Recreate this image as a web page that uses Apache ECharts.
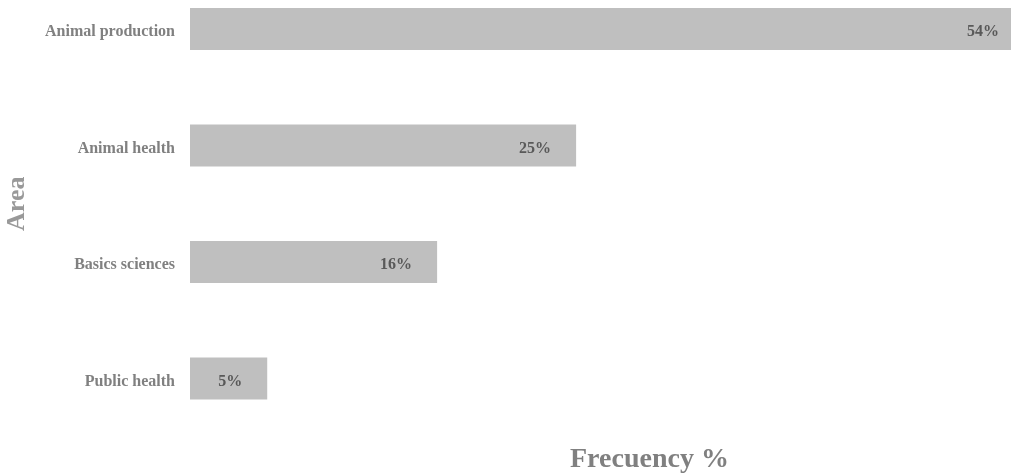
<!DOCTYPE html>
<html><head><meta charset="utf-8">
<script src="https://cdn.jsdelivr.net/npm/echarts@6/dist/echarts.min.js"></script>
<style>html,body{margin:0;padding:0;background:#fff}#c{width:1011px;height:474px}</style>
</head><body><div id="c"></div>
<script>
var categories = ['Animal production', 'Animal health', 'Basics sciences', 'Public health'];
var values = [54, 25, 16, 5];
var xTitle = 'Frecuency %';
var yTitle = 'Area';

var chart = echarts.init(document.getElementById('c'));
var font = '"Liberation Serif", "DejaVu Serif", serif';
chart.setOption({
  animation: false,
  graphic: [{
    type: 'text', x: 570, y: 460,
    style: {text: xTitle, verticalAlign: 'middle', align: 'left',
      font: 'bold 28px ' + font, fill: '#808080'}
  }],
  grid: {left: 190, width: 834, top: -29.25, height: 466, outerBoundsMode: 'none', containLabel: false},
  xAxis: {
    type: 'value', min: 0, max: 54, show: false
  },
  yAxis: {
    type: 'category', data: categories, inverse: true,
    axisLine: {show: false}, axisTick: {show: false},
    axisLabel: {
      margin: 15, formatter: '{a|{value}}',
      rich: {a: {fontFamily: font, fontWeight: 'bold', fontSize: 16, color: '#808080', padding: [6, 0, 0, 0]}}
    },
    name: yTitle, nameLocation: 'middle', nameGap: 160, nameRotate: 90,
    nameTextStyle: {fontFamily: font, fontWeight: 'bold', fontSize: 26, color: '#999999'}
  },
  series: [{
    type: 'bar', data: values, barWidth: 42,
    itemStyle: {color: '#bfbfbf'},
    label: {
      show: true, position: 'insideRight', distance: 25, offset: [0, 3],
      formatter: '{c}%', fontFamily: font, fontWeight: 'bold', fontSize: 16, color: '#595959'
    }
  }]
});
</script></body></html>
